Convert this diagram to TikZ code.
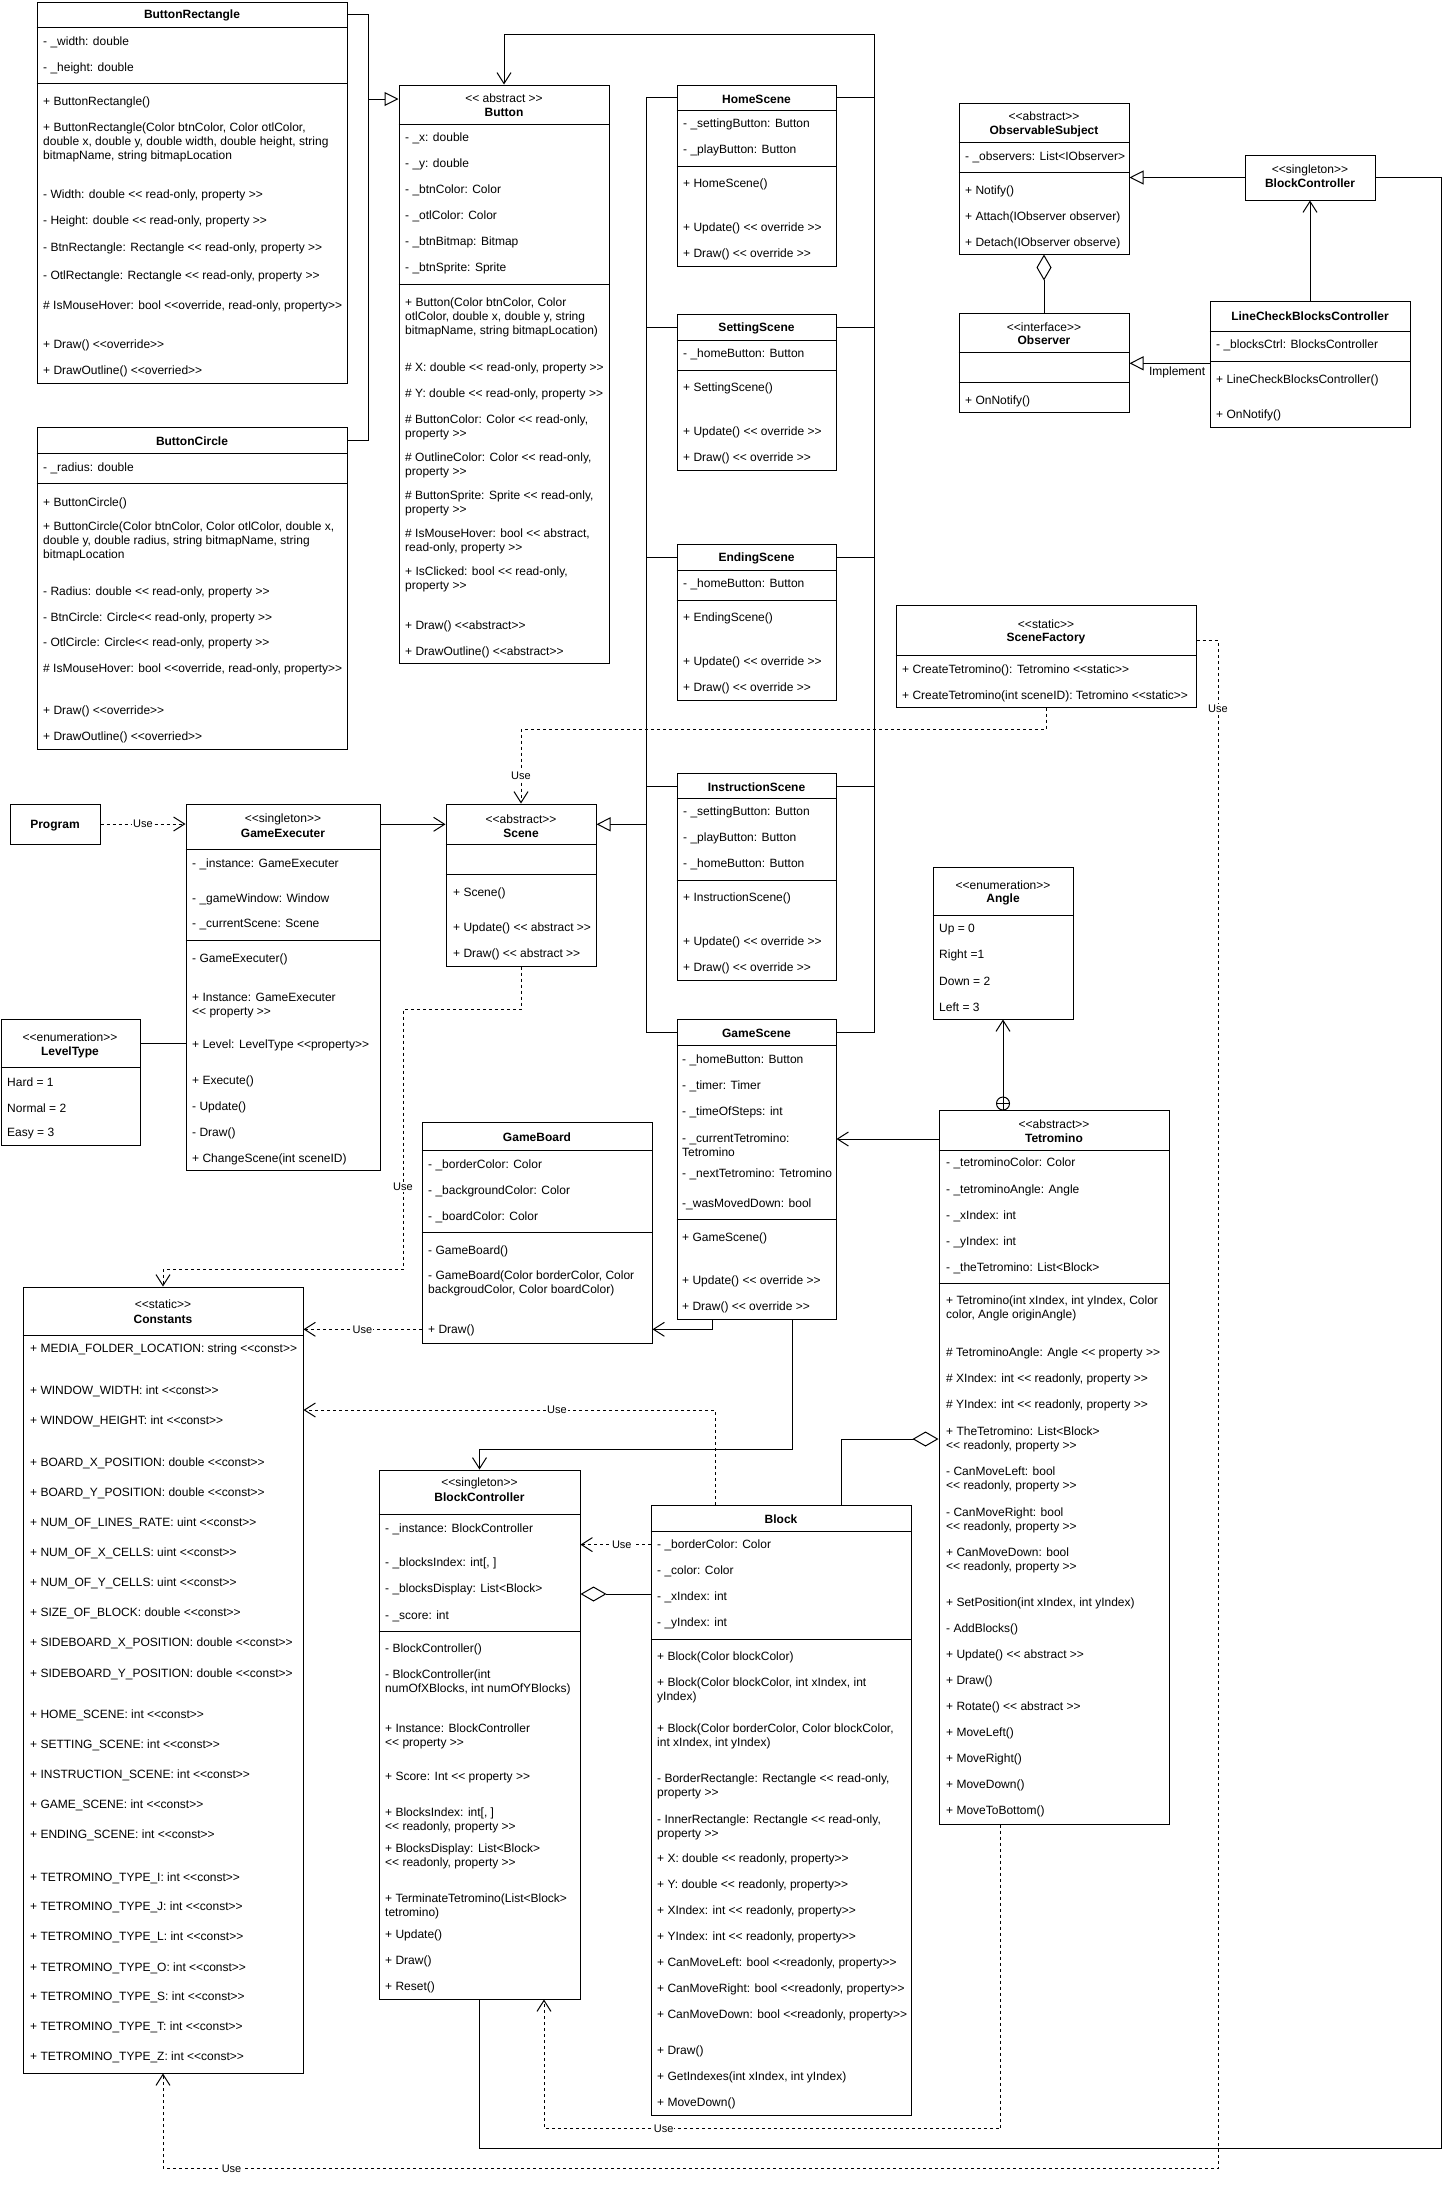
\documentclass[tikz,border=0pt]{standalone}
\usepackage{fontspec}
\newfontfamily\uf{Liberation Sans}
\usetikzlibrary{arrows.meta,fit}
\tikzset{
  box/.style={draw, line width=1pt, inner sep=0pt, fill=white},
  sepl/.style={line width=1pt},
  row/.style={anchor=west, align=left, inner sep=0pt, yshift=-1.2pt, font=\uf\fontsize{12}{14}\selectfont},
  ttl/.style={inner sep=0pt, yshift=-1.2pt, font=\uf\bfseries\fontsize{12}{14}\selectfont},
  ster/.style={inner sep=0pt, yshift=-1.2pt, font=\uf\fontsize{12}{14}\selectfont},
  conn/.style={draw, line width=1pt},
  dep/.style={conn, dash pattern=on 3pt off 3pt, -{Straight Barb[length=11pt,width=14pt]}},
  assoc/.style={conn, -{Straight Barb[length=11pt,width=14pt]}},
  inh/.style={conn, -{Triangle[open,length=14pt,width=14pt,fill=white]}},
  aggs/.style={conn, {Diamond[open,length=26pt,width=15pt,fill=white]}-},
  agge/.style={conn, -{Diamond[open,length=26pt,width=15pt,fill=white]}},
  lbl/.style={fill=white, inner sep=1pt, font=\uf\fontsize{11}{12}\selectfont},
  cplus/.style={draw, circle, line width=1pt, minimum size=13pt, inner sep=0pt, fill=white,
    path picture={\draw[line width=1pt] (path picture bounding box.north) -- (path picture bounding box.south)
      (path picture bounding box.west) -- (path picture bounding box.east);}},
}
% class frame, compartment line, member rows
\newcommand\umlbox[3]{\node[box, fit={#2 #3}] (#1) {};}
\newcommand\hsep[2]{\draw[sepl] (#1.west |- 0,#2) -- (#1.east |- 0,#2);}
\newcommand\umlrows[3]{\foreach \ry/\rtxt [count=\rk] in {#3} {\node[row] (#1-\rk) at (#2,\ry) {\rtxt};}}

\begin{document}
\begin{tikzpicture}[x=1pt,y=-1pt]
\fill[white] (0,0) rectangle (1445,2185);
\useasboundingbox (0,0) rectangle (1445,2185);

%% ---------------- ButtonRectangle
\umlbox{BR}{(37,2)}{(347,383)}
\hsep{BR}{27}\hsep{BR}{83}
\coordinate (BR-h) at (192,14.5);
\node[ttl] (BR-n) at (BR-h) {ButtonRectangle};
\umlrows{BR}{43}{41/{- \_width: double}, 67/{- \_height: double}, 101/{+ ButtonRectangle()},
 141/{+ ButtonRectangle(Color btnColor, Color otlColor,\\double x, double y, double width, double height, string\\bitmapName, string bitmapLocation},
 194/{- Width: double << read-only, property >>}, 220/{- Height: double << read-only, property >>},
 247/{- BtnRectangle: Rectangle << read-only, property >>}, 275/{- OtlRectangle: Rectangle << read-only, property >>},
 305/{\# IsMouseHover: bool <<override, read-only, property>>}, 344/{+ Draw() <<override>>}, 370/{+ DrawOutline() <<overried>>}}

%% ---------------- ButtonCircle
\umlbox{BC}{(37,427)}{(347,749)}
\hsep{BC}{453}\hsep{BC}{483}
\coordinate (BC-h) at (192,440);
\node[ttl] (BC-n) at (BC-h) {ButtonCircle};
\umlrows{BC}{43}{467/{- \_radius: double}, 502/{+ ButtonCircle()},
 540/{+ ButtonCircle(Color btnColor, Color otlColor, double x,\\double y, double radius, string bitmapName, string\\bitmapLocation},
 591/{- Radius: double << read-only, property >>}, 617/{- BtnCircle: Circle<< read-only, property >>},
 642/{- OtlCircle: Circle<< read-only, property >>}, 668/{\# IsMouseHover: bool <<override, read-only, property>>},
 710/{+ Draw() <<override>>}, 736/{+ DrawOutline() <<overried>>}}

%% ---------------- Button
\umlbox{BTN}{(399,85)}{(609,663.5)}
\hsep{BTN}{124.5}\hsep{BTN}{284.5}
\node[ster] (BTN-s) at (504,97) {<< abstract >>};
\node[ttl] (BTN-n) at (504,111) {Button};
\umlrows{BTN}{405}{137.5/{- \_x: double}, 163.5/{- \_y: double}, 189.5/{- \_btnColor: Color},
 215.5/{- \_otlColor: Color}, 241.5/{- \_btnBitmap: Bitmap}, 267.5/{- \_btnSprite: Sprite},
 315.7/{+ Button(Color btnColor, Color\\otlColor, double x, double y, string\\bitmapName, string bitmapLocation)},
 367/{\# X: double << read-only, property >>}, 393/{\# Y: double << read-only, property >>},
 426/{\# ButtonColor: Color << read-only,\\property >>}, 464.3/{\# OutlineColor: Color << read-only,\\property >>},
 502.3/{\# ButtonSprite: Sprite << read-only,\\property >>}, 540/{\# IsMouseHover: bool << abstract,\\read-only, property >>},
 578.3/{+ IsClicked: bool << read-only,\\property >>}, 625/{+ Draw() <<abstract>>}, 651/{+ DrawOutline() <<abstract>>}}

%% ---------------- scenes
\umlbox{HS}{(677,85)}{(836,266)}
\hsep{HS}{110.6}\hsep{HS}{166}
\coordinate (HS-h) at (756.5,97.8);
\node[ttl] (HS-n) at (HS-h) {HomeScene};
\umlrows{HS}{683}{123.6/{- \_settingButton: Button}, 149.6/{- \_playButton: Button}, 183.4/{+ HomeScene()},
 227/{+ Update() << override >>}, 253/{+ Draw() << override >>}}

\umlbox{SS}{(677,314)}{(836,470)}
\hsep{SS}{340}\hsep{SS}{370}
\coordinate (SS-h) at (756.5,327);
\node[ttl] (SS-n) at (SS-h) {SettingScene};
\umlrows{SS}{683}{353.4/{- \_homeButton: Button}, 387/{+ SettingScene()},
 431.5/{+ Update() << override >>}, 457.5/{+ Draw() << override >>}}

\umlbox{ES}{(677,544)}{(836,700)}
\hsep{ES}{570}\hsep{ES}{600.6}
\coordinate (ES-h) at (756.5,557);
\node[ttl] (ES-n) at (ES-h) {EndingScene};
\umlrows{ES}{683}{583/{- \_homeButton: Button}, 617/{+ EndingScene()},
 661/{+ Update() << override >>}, 687/{+ Draw() << override >>}}

\umlbox{IS}{(677,773)}{(836,980)}
\hsep{IS}{798.6}\hsep{IS}{880}
\coordinate (IS-h) at (756.5,786);
\node[ttl] (IS-n) at (IS-h) {InstructionScene};
\umlrows{IS}{683}{811.6/{- \_settingButton: Button}, 837.6/{- \_playButton: Button}, 863.6/{- \_homeButton: Button},
 897.4/{+ InstructionScene()}, 941/{+ Update() << override >>}, 967/{+ Draw() << override >>}}

\umlbox{GS}{(677,1019)}{(836,1319)}
\hsep{GS}{1045}\hsep{GS}{1219.3}
\coordinate (GS-h) at (756.5,1032);
\node[ttl] (GS-n) at (GS-h) {GameScene};
\umlrows{GS}{682}{1058.7/{- \_homeButton: Button}, 1084.7/{- \_timer: Timer}, 1110.7/{- \_timeOfSteps: int},
 1143.7/{- \_currentTetromino:\\Tetromino}, 1172.7/{- \_nextTetromino: Tetromino}, 1202.7/{-\_wasMovedDown: bool},
 1236.7/{+ GameScene()}, 1280/{+ Update() << override >>}, 1306/{+ Draw() << override >>}}

%% ---------------- observer pattern
\umlbox{OS}{(959,103)}{(1129,254)}
\hsep{OS}{142.3}\hsep{OS}{172.3}
\node[ster] (OS-s) at (1044,115) {<<abstract>>};
\node[ttl] (OS-n) at (1044,129.7) {ObservableSubject};
\umlrows{OS}{965}{155.7/{- \_observers: List<IObserver>}, 189.7/{+ Notify()},
 215.7/{+ Attach(IObserver observer)}, 241.7/{+ Detach(IObserver observe)}}

\umlbox{BCS}{(1245,155)}{(1375,200)}
\node[ster] (BCS-s) at (1310,169) {<<singleton>>};
\node[ttl] (BCS-n) at (1310,182.3) {BlockController};

\umlbox{OB}{(959,313)}{(1129,412)}
\hsep{OB}{352.3}\hsep{OB}{382.3}
\node[ster] (OB-s) at (1044,325.7) {<<interface>>};
\node[ttl] (OB-n) at (1044,339.3) {Observer};
\umlrows{OB}{965}{400/{+ OnNotify()}}

\umlbox{LC}{(1210,301)}{(1410,427)}
\hsep{LC}{331}\hsep{LC}{361}
\node[ttl] (LC-n) at (1310,315.5) {LineCheckBlocksController};
\umlrows{LC}{1216}{344.3/{- \_blocksCtrl: BlocksController}, 378.7/{+ LineCheckBlocksController()}, 414/{+ OnNotify()}}

%% ---------------- SceneFactory and Angle
\umlbox{SF}{(896,605)}{(1196,707)}
\hsep{SF}{655.3}
\node[ster] (SF-s) at (1046,622.7) {<<static>>};
\node[ttl] (SF-n) at (1046,637.7) {SceneFactory};
\umlrows{SF}{902}{669/{+ CreateTetromino(): Tetromino <<static>>}, 694.7/{+ CreateTetromino(int sceneID): Tetromino <<static>>}}

\umlbox{ANG}{(933,867)}{(1073,1019)}
\hsep{ANG}{915.3}
\node[ster] (ANG-s) at (1003,883.7) {<<enumeration>>};
\node[ttl] (ANG-n) at (1003,898.7) {Angle};
\umlrows{ANG}{939}{928.7/{Up = 0}, 954.3/{Right =1}, 980.3/{Down = 2}, 1006.3/{Left = 3}}

%% ---------------- Program, GameExecuter, Scene, LevelType
\umlbox{PRG}{(10,804)}{(100,844)}
\node[ttl] (PRG-n) at (PRG) {Program};

\umlbox{GE}{(186,804)}{(380,1170)}
\hsep{GE}{849.3}\hsep{GE}{940.3}
\node[ster] (GE-s) at (283,817.7) {<<singleton>>};
\node[ttl] (GE-n) at (283,831.7) {GameExecuter};
\umlrows{GE}{192}{862.7/{- \_instance: GameExecuter}, 897.7/{- \_gameWindow: Window}, 923.7/{- \_currentScene: Scene},
 957.7/{- GameExecuter()}, 1004.7/{+ Instance: GameExecuter\\<< property >>}, 1044/{+ Level: LevelType <<property>>},
 1079.7/{+ Execute()}, 1105.7/{- Update()}, 1131.7/{- Draw()}, 1157.7/{+ ChangeScene(int sceneID)}}

\umlbox{SC}{(446,804)}{(596,966)}
\hsep{SC}{844.3}\hsep{SC}{874.3}
\coordinate (SC-h) at (521,824.3);
\node[ster] (SC-s) at (521,817.7) {<<abstract>>};
\node[ttl] (SC-n) at (521,831.7) {Scene};
\umlrows{SC}{453}{891.7/{+ Scene()}, 927.3/{+ Update() << abstract >>}, 953.3/{+ Draw() << abstract >>}}

\umlbox{LT}{(1,1019)}{(140,1145)}
\hsep{LT}{1067.3}
\coordinate (LT-h) at (70,1043.3);
\node[ster] (LT-s) at (70,1035.7) {<<enumeration>>};
\node[ttl] (LT-n) at (70,1050.7) {LevelType};
\umlrows{LT}{7}{1080.7/{Hard = 1}, 1106.7/{Normal = 2}, 1132.7/{Easy = 3}}

%% ---------------- GameBoard
\umlbox{GB}{(422,1122)}{(652,1343)}
\hsep{GB}{1150}\hsep{GB}{1232.3}
\node[ttl] (GB-n) at (537,1136) {GameBoard};
\umlrows{GB}{428}{1163.7/{- \_borderColor: Color}, 1189.7/{- \_backgroundColor: Color}, 1215.7/{- \_boardColor: Color},
 1249.7/{- GameBoard()}, 1282.5/{- GameBoard(Color borderColor, Color\\backgroudColor, Color boardColor)}, 1329.3/{+ Draw()}}

%% ---------------- Constants
\umlbox{CON}{(23,1287)}{(303,2073)}
\hsep{CON}{1335.4}
\node[ster] (CON-s) at (163,1303) {<<static>>};
\node[ttl] (CON-n) at (163,1318) {Constants};
\umlrows{CON}{30}{1348.5/{+ MEDIA\_FOLDER\_LOCATION: string <<const>>},
 1390.3/{+ WINDOW\_WIDTH: int <<const>>}, 1420/{+ WINDOW\_HEIGHT: int <<const>>},
 1462.5/{+ BOARD\_X\_POSITION: double <<const>>}, 1492.3/{+ BOARD\_Y\_POSITION: double <<const>>},
 1522/{+ NUM\_OF\_LINES\_RATE: uint <<const>>}, 1552.4/{+ NUM\_OF\_X\_CELLS: uint <<const>>},
 1582.2/{+ NUM\_OF\_Y\_CELLS: uint <<const>>}, 1612.6/{+ SIZE\_OF\_BLOCK: double <<const>>},
 1642.4/{+ SIDEBOARD\_X\_POSITION: double <<const>>}, 1672.7/{+ SIDEBOARD\_Y\_POSITION: double <<const>>},
 1714.6/{+ HOME\_SCENE: int <<const>>}, 1744.4/{+ SETTING\_SCENE: int <<const>>},
 1774/{+ INSTRUCTION\_SCENE: int <<const>>}, 1804.5/{+ GAME\_SCENE: int <<const>>},
 1834.3/{+ ENDING\_SCENE: int <<const>>},
 1876.7/{+ TETROMINO\_TYPE\_I: int <<const>>}, 1906.5/{+ TETROMINO\_TYPE\_J: int <<const>>},
 1936.3/{+ TETROMINO\_TYPE\_L: int <<const>>}, 1966.7/{+ TETROMINO\_TYPE\_O: int <<const>>},
 1996.5/{+ TETROMINO\_TYPE\_S: int <<const>>}, 2026.3/{+ TETROMINO\_TYPE\_T: int <<const>>},
 2056.6/{+ TETROMINO\_TYPE\_Z: int <<const>>}}

%% ---------------- BlockController
\umlbox{BLC}{(379,1470)}{(580,1999)}
\hsep{BLC}{1514}\hsep{BLC}{1631}
\node[ster] (BLC-s) at (479.5,1482) {<<singleton>>};
\node[ttl] (BLC-n) at (479.5,1496) {BlockController};
\umlrows{BLC}{385}{1527.7/{- \_instance: BlockController}, 1562.5/{- \_blocksIndex: int[, ]},
 1588.4/{- \_blocksDisplay: List<Block>}, 1614.7/{- \_score: int}, 1648/{- BlockController()},
 1681.5/{- BlockController(int\\numOfXBlocks, int numOfYBlocks)}, 1735/{+ Instance: BlockController\\<< property >>},
 1776/{+ Score: Int << property >>}, 1819/{+ BlocksIndex: int[, ]\\<< readonly, property >>},
 1855/{+ BlocksDisplay: List<Block>\\<< readonly, property >>}, 1905/{+ TerminateTetromino(List<Block>\\tetromino)},
 1934/{+ Update()}, 1960/{+ Draw()}, 1986/{+ Reset()}}

%% ---------------- Block
\umlbox{BLK}{(651,1505)}{(911,2115)}
\hsep{BLK}{1531}\hsep{BLK}{1639.3}
\node[ttl] (BLK-n) at (781,1518) {Block};
\umlrows{BLK}{657}{1544.6/{- \_borderColor: Color}, 1570.5/{- \_color: Color}, 1596.4/{- \_xIndex: int},
 1622.3/{- \_yIndex: int}, 1656/{+ Block(Color blockColor)}, 1689.5/{+ Block(Color blockColor, int xIndex, int\\yIndex)},
 1735/{+ Block(Color borderColor, Color blockColor,\\int xIndex, int yIndex)},
 1785/{- BorderRectangle: Rectangle << read-only,\\property >>}, 1825.7/{- InnerRectangle: Rectangle << read-only,\\property >>},
 1858/{+ X: double << readonly, property>>}, 1884/{+ Y: double << readonly, property>>},
 1909.8/{+ XIndex: int << readonly, property>>}, 1936/{+ YIndex: int << readonly, property>>},
 1962/{+ CanMoveLeft: bool <<readonly, property>>}, 1988/{+ CanMoveRight: bool <<readonly, property>>},
 2013.8/{+ CanMoveDown: bool <<readonly, property>>}, 2050.4/{+ Draw()},
 2076.3/{+ GetIndexes(int xIndex, int yIndex)}, 2102/{+ MoveDown()}}

%% ---------------- Tetromino
\umlbox{TET}{(939,1110)}{(1169,1824)}
\hsep{TET}{1150.6}\hsep{TET}{1283}
\node[ster] (TET-s) at (1054,1122.5) {<<abstract>>};
\node[ttl] (TET-n) at (1054,1136.5) {Tetromino};
\umlrows{TET}{946}{1162/{- \_tetrominoColor: Color}, 1189/{- \_tetrominoAngle: Angle}, 1215/{- \_xIndex: int},
 1241/{- \_yIndex: int}, 1267/{- \_theTetromino: List<Block>},
 1307/{+ Tetromino(int xIndex, int yIndex, Color\\color, Angle originAngle)},
 1352/{\# TetrominoAngle: Angle << property >>}, 1378/{\# XIndex: int << readonly, property >>},
 1404/{\# YIndex: int << readonly, property >>}, 1438/{+ TheTetromino: List<Block>\\<< readonly, property >>},
 1478/{- CanMoveLeft: bool\\<< readonly, property >>}, 1519/{- CanMoveRight: bool\\<< readonly, property >>},
 1559/{+ CanMoveDown: bool\\<< readonly, property >>}, 1602/{+ SetPosition(int xIndex, int yIndex)},
 1628/{- AddBlocks()}, 1654/{+ Update() << abstract >>}, 1680/{+ Draw()}, 1706/{+ Rotate() << abstract >>},
 1732/{+ MoveLeft()}, 1758/{+ MoveRight()}, 1784/{+ MoveDown()}, 1810/{+ MoveToBottom()}}
\node[cplus] (CP) at (1003,1103.5) {};

%% ================= connectors
% button subclasses
\coordinate (jb) at (368,99);
\draw[conn] (BR-h -| BR.east) -| (jb);
\draw[conn] (BC-h -| BC.east) -| (jb);
\draw[inh] (jb) -- (jb -| BTN.west);

% scenes use Button
\coordinate (rb) at (874,34);
\draw[assoc] (GS-h -| GS.east) -| (rb) -| (BTN.north);
\foreach \s in {HS,SS,ES,IS} {\draw[conn] (\s-h -| \s.east) -- (\s-h -| rb);}

% scenes derive from Scene
\coordinate (lb) at (646.5,824.3);
\draw[conn] (HS-h -| HS.west) -- (HS-h -| lb) -- (GS-h -| lb) -- (GS-h -| GS.west);
\foreach \s in {SS,ES,IS} {\draw[conn] (\s-h -| \s.west) -- (\s-h -| lb);}
\draw[inh] (lb) -- (lb -| SC.east);

% GameExecuter, Program, LevelType
\draw[assoc] (SC-h -| GE.east) -- (SC-h -| SC.west);
\draw[dep] (PRG.east) -- (PRG.east -| GE.west) node[lbl, midway] (u1) {Use};
\draw[conn] (LT-h -| LT.east) -- (LT-h -| GE.west);

% SceneFactory uses Scene and Constants
\coordinate (sf1) at (521,729.3);
\draw[dep] (SF.south) |- (sf1 -| SC.north) -- (SC.north) node[lbl, pos=0.63] (u2) {Use};
\coordinate (fr1) at (1218,640.5);
\coordinate (fr2) at (1218,2168.5);
\draw[dep] (fr1 -| SF.east) -- (fr1) -- (fr2) node[lbl, pos=0.045] (u3) {Use}
  -- (fr2 -| CON.south) node[lbl, pos=0.935] (u4) {Use} -- (CON.south);

% Scene uses Constants
\coordinate (sc1) at (403,1009.3);
\coordinate (sc2) at (403,1269);
\draw[dep] (SC.south) |- (sc1) -- (sc2) node[lbl, pos=0.685] (u5) {Use} -| (CON.north);

% GameBoard uses Constants
\coordinate (gb1) at (0,1329.3);
\draw[dep] (gb1 -| GB.west) -- (gb1 -| CON.east) node[lbl, midway] (u6) {Use};

% GameScene to GameBoard and BlockController
\coordinate (gs1) at (712.7,1329.3);
\draw[assoc] (gs1 |- GS.south) -- (gs1) -- (gs1 -| GB.east);
\coordinate (gs2) at (792.3,1449);
\draw[assoc] (gs2 |- GS.south) -- (gs2) -| (BLC.north);

% Tetromino to GameScene and Angle
\coordinate (tg1) at (0,1139);
\draw[assoc] (tg1 -| TET.west) -- (tg1 -| GS.east);
\draw[assoc] (CP.north) -- (ANG.south);

% Block relations
\coordinate (bu1) at (0,1544.6);
\draw[dep] (bu1 -| BLK.west) -- (bu1 -| BLC.east) node[lbl, pos=0.41] (u7) {Use};
\coordinate (ag1) at (0,1594);
\draw[aggs] (ag1 -| BLC.east) -- (ag1 -| BLK.west);
\coordinate (bk1) at (715.7,1410);
\draw[dep] (bk1 |- BLK.north) -- (bk1) -- (bk1 -| CON.east) node[lbl, pos=0.385] (u8) {Use};
\coordinate (bk2) at (841.4,1439);
\draw[agge] (bk2 |- BLK.north) -- (bk2) -- (bk2 -| TET.west);

% Tetromino uses BlockController
\coordinate (tb1) at (1000.5,2128.6);
\coordinate (tb2) at (544,2128.6);
\draw[dep] (tb1 |- TET.south) -- (tb1) -- (tb2) node[lbl, pos=0.738] (u9) {Use} -- (tb2 |- BLC.south);

% BlockController in the observer pattern
\coordinate (bb1) at (1441.5,2148);
\coordinate (bb2) at (1441.5,177.5);
\draw[conn] (BLC.south) -- (BLC.south |- bb1) -- (bb1) -- (bb2) -- (bb2 -| BCS.east);
\draw[inh] (BCS.west) -- (BCS.west -| OS.east);
\draw[aggs] (OS.south) -- (OB.north);
\coordinate (lc1) at (0,363.3);
\draw[inh] (lc1 -| LC.west) -- (lc1 -| OB.east) node[pos=0.405, below=2.5pt, inner sep=0pt, font=\uf\fontsize{12}{14}\selectfont] (u10) {Implement};
\draw[assoc] (LC.north) -- (BCS.south);
\end{tikzpicture}
\end{document}
